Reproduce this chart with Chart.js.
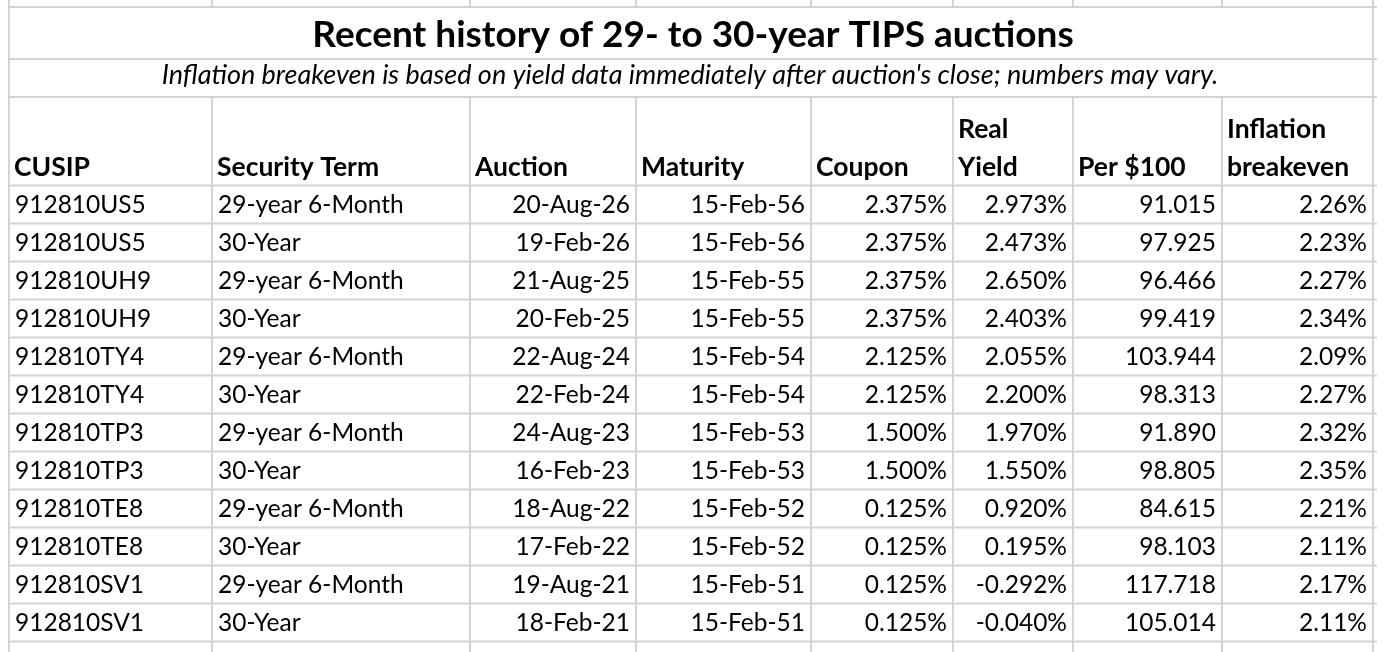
<!DOCTYPE html>
<html>
<head>
<meta charset="utf-8">
<script src="https://cdn.jsdelivr.net/npm/chart.js@4"></script>
<style>
  html, body { margin: 0; padding: 0; background: #fff; }
  #wrap { width: 1389px; height: 652px; }
</style>
</head>
<body>
<div id="wrap"><canvas id="myChart"></canvas></div>
<script>
var TITLE = "Recent history of 29- to 30-year TIPS auctions";
var SUBTITLE = "Inflation breakeven is based on yield data immediately after auction's close; numbers may vary.";

var headers = [["CUSIP"], ["Security Term"], ["Auction"], ["Maturity"], ["Coupon"], ["Real", "Yield"], ["Per $100"], ["Inflation", "breakeven"]];

var cusips = ["912810US5", "912810US5", "912810UH9", "912810UH9", "912810TY4", "912810TY4",
              "912810TP3", "912810TP3", "912810TE8", "912810TE8", "912810SV1", "912810SV1"];
var terms = ["29-year 6-Month", "30-Year", "29-year 6-Month", "30-Year", "29-year 6-Month", "30-Year",
             "29-year 6-Month", "30-Year", "29-year 6-Month", "30-Year", "29-year 6-Month", "30-Year"];
var auctionDates = ["20-Aug-26", "19-Feb-26", "21-Aug-25", "20-Feb-25", "22-Aug-24", "22-Feb-24",
                    "24-Aug-23", "16-Feb-23", "18-Aug-22", "17-Feb-22", "19-Aug-21", "18-Feb-21"];
var maturityDates = ["15-Feb-56", "15-Feb-56", "15-Feb-55", "15-Feb-55", "15-Feb-54", "15-Feb-54",
                     "15-Feb-53", "15-Feb-53", "15-Feb-52", "15-Feb-52", "15-Feb-51", "15-Feb-51"];
var coupons = [2.375, 2.375, 2.375, 2.375, 2.125, 2.125, 1.500, 1.500, 0.125, 0.125, 0.125, 0.125];
var realYields = [2.973, 2.473, 2.650, 2.403, 2.055, 2.200, 1.970, 1.550, 0.920, 0.195, -0.292, -0.040];
var prices = [91.015, 97.925, 96.466, 99.419, 103.944, 98.313, 91.890, 98.805, 84.615, 98.103, 117.718, 105.014];
var breakevens = [2.26, 2.23, 2.27, 2.34, 2.09, 2.27, 2.32, 2.35, 2.21, 2.11, 2.17, 2.11];

// layout (canvas units)
var colEdges = [9, 212, 470, 636, 811, 953, 1073, 1222, 1373];
var colAlign = ["left", "left", "right", "right", "right", "right", "right", "right"];
var topLine = 7, titleBottom = 59, subBottom = 97, headBottom = 185.5, rowH = 38;
var pad = 6;
var FONT = "Lato";
var gridColor = "#d4d4d4";

function pct3(v) { return v.toFixed(3) + "%"; }
function pct2(v) { return v.toFixed(2) + "%"; }

var columns = [
    cusips,
    terms,
    auctionDates,
    maturityDates,
    coupons.map(pct3),
    realYields.map(pct3),
    prices.map(function (v) { return v.toFixed(3); }),
    breakevens.map(pct2)
];

function rowBaseline(i) { return headBottom + rowH * (i + 1) - 11; }

var datasets = columns.map(function (col, c) {
    var ax = colAlign[c] === "left" ? colEdges[c] + pad : colEdges[c + 1] - pad;
    return {
        label: headers[c].join(" "),
        data: col.map(function (txt, i) { return { x: ax, y: rowBaseline(i), txt: txt }; }),
        align: colAlign[c],
        pointRadius: 0,
        pointHoverRadius: 0,
        showLine: false
    };
});

var tablePlugin = {
    id: "tablePlugin",
    beforeDatasetsDraw: function (chart) {
        var c = chart.ctx, xs = chart.scales.x, ys = chart.scales.y;
        var nRows = cusips.length;
        c.save();
        c.strokeStyle = gridColor;
        c.lineWidth = 2;
        // horizontal lines
        var hl = [topLine, titleBottom, subBottom, headBottom];
        for (var i = 1; i <= nRows; i++) hl.push(headBottom + rowH * i);
        var x0 = xs.getPixelForValue(colEdges[0]), x1 = xs.getPixelForValue(colEdges[colEdges.length - 1]);
        hl.forEach(function (v) {
            var y = ys.getPixelForValue(v);
            c.beginPath(); c.moveTo(x0, y); c.lineTo(x1 + 4, y); c.stroke();
        });
        // vertical lines
        colEdges.forEach(function (e, k) {
            var x = xs.getPixelForValue(e);
            c.beginPath();
            c.moveTo(x, ys.getPixelForValue(0)); c.lineTo(x, ys.getPixelForValue(topLine));
            c.stroke();
            var from = (k === 0 || k === colEdges.length - 1) ? topLine : subBottom;
            c.beginPath();
            c.moveTo(x, ys.getPixelForValue(from)); c.lineTo(x, ys.getPixelForValue(652));
            c.stroke();
        });
        c.restore();
    },
    afterDatasetsDraw: function (chart) {
        var c = chart.ctx, xs = chart.scales.x, ys = chart.scales.y;
        c.save();
        c.fillStyle = "#000";
        c.textBaseline = "alphabetic";
        var mid = xs.getPixelForValue((colEdges[0] + colEdges[colEdges.length - 1]) / 2 + 2);
        // title + subtitle
        c.textAlign = "center";
        c.font = "bold 37px " + FONT;
        c.fillText(TITLE, mid, ys.getPixelForValue(47));
        c.font = "italic 27px " + FONT;
        c.fillText(SUBTITLE, xs.getPixelForValue(690), ys.getPixelForValue(84));
        // headers
        c.font = "bold 26.5px " + FONT;
        c.textAlign = "left";
        headers.forEach(function (lines, k) {
            var x = xs.getPixelForValue(colEdges[k] + pad - 1);
            lines.forEach(function (t, j) {
                var yv = 176 - (lines.length - 1 - j) * 38;
                c.fillText(t, x, ys.getPixelForValue(yv));
            });
        });
        // cells
        c.font = "24.5px " + FONT;
        chart.data.datasets.forEach(function (ds, d) {
            var meta = chart.getDatasetMeta(d);
            c.textAlign = ds.align;
            meta.data.forEach(function (el, i) {
                c.fillText(ds.data[i].txt, el.x, el.y);
            });
        });
        c.restore();
    }
};

var ctx = document.getElementById("myChart").getContext("2d");
var myChart = new Chart(ctx, {
    type: "scatter",
    data: { datasets: datasets },
    options: {
        responsive: true,
        maintainAspectRatio: false,
        animation: false,
        devicePixelRatio: 1,
        layout: { padding: 0 },
        events: [],
        plugins: { legend: { display: false }, tooltip: { enabled: false }, title: { display: false } },
        scales: {
            x: { type: "linear", display: false, min: 0, max: 1389 },
            y: { type: "linear", display: false, min: 0, max: 652, reverse: true }
        },
        clip: false
    },
    plugins: [tablePlugin]
});
</script>
</body>
</html>
